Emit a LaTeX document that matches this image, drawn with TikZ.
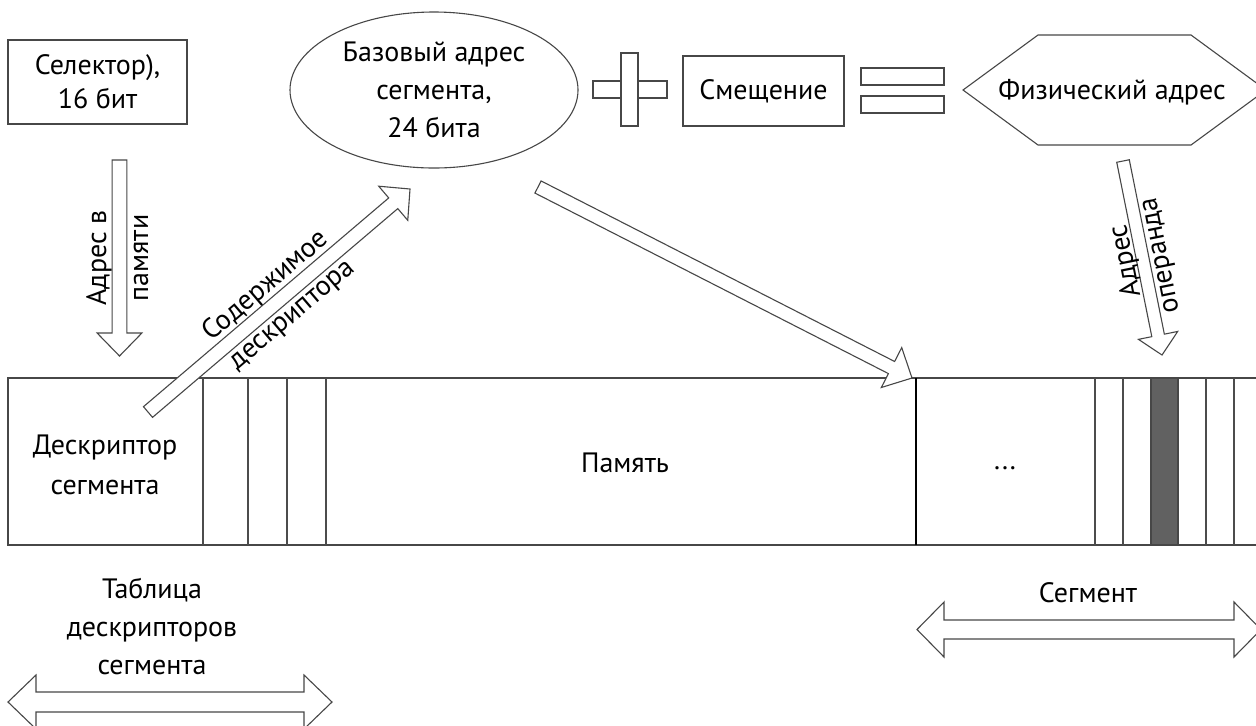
\documentclass[tikz,border=0pt]{standalone}
\usepackage{fontspec}
\setmainfont{PT Sans}
\usetikzlibrary{calc,shapes.geometric}

\tikzset{
  outline/.style={draw=black!72, line width=0.55pt},
  lbl/.style={inner sep=0pt, align=center, font=\fontsize{14}{19}\selectfont},
  blk/.style={outline, fill=white, line join=miter},
  divider/.style={draw=black!70, line width=0.55pt},
}

% block arrow: #1 tail, #2 tip, #3 half shaft width, #4 half head width, #5 head length
\newcommand\blockarrow[5]{%
  \coordinate (bh) at ($(#2)!#5!(#1)$);
  \draw[blk] ($(#1)!#3!90:(#2)$) -- ($(bh)!#3!90:(#2)$) -- ($(bh)!#4!90:(#2)$)
    -- (#2) -- ($(bh)!#4!-90:(#2)$) -- ($(bh)!#3!-90:(#2)$)
    -- ($(#1)!#3!-90:(#2)$) -- cycle;
}
% two-headed block arrow: #1, #2 tips, #3 half shaft, #4 half head, #5 head length
\newcommand\doublearrow[5]{%
  \coordinate (ba) at ($(#1)!#5!(#2)$);
  \coordinate (bb) at ($(#2)!#5!(#1)$);
  \draw[blk] (#1) -- ($(ba)!#4!90:(#2)$) -- ($(ba)!#3!90:(#2)$)
    -- ($(bb)!#3!-90:(#1)$) -- ($(bb)!#4!-90:(#1)$) -- (#2)
    -- ($(bb)!#4!90:(#1)$) -- ($(bb)!#3!90:(#1)$)
    -- ($(ba)!#3!-90:(#2)$) -- ($(ba)!#4!-90:(#2)$) -- cycle;
}

\begin{document}
\begin{tikzpicture}[x=0.5pt,y=-0.5pt]
\useasboundingbox (0,0) rectangle (1256,725);
\clip (0,0) rectangle (1256,725);
\fill[white] (0,0) rectangle (1256,725);

% ---- top row: selector, base address, offset, physical address ----
\node[outline, lbl, font=\fontsize{14}{17}\selectfont,
      minimum width=89.5pt, minimum height=42pt] (sel) at (97.5,82) {Селектор),\\16 бит};

\node[outline, ellipse, inner sep=0pt, minimum width=144pt, minimum height=78pt] (base) at (434,90) {};
\node[lbl] (basetxt) at (base.center) {Базовый адрес\\сегмента,\\24 бита};

% plus sign
\draw[outline, fill=white] (593,81) rectangle (667,98);
\draw[outline, fill=white] (621,53) rectangle (638,126);

\node[outline, lbl, minimum width=80.5pt, minimum height=35pt] (off) at (763.5,91) {Смещение};

% equals sign
\draw[outline] (861,68) rectangle (944,85);
\draw[outline] (861,96) rectangle (944,113);

% physical address hexagon
\coordinate (hx1) at (963,90);
\coordinate (hx2) at (1038,35);
\coordinate (hx3) at (1191,35);
\coordinate (hx4) at (1266,90);
\coordinate (hx5) at (1191,145);
\coordinate (hx6) at (1038,145);
\draw[outline] (hx1) -- (hx2) -- (hx3) -- (hx4) -- (hx5) -- (hx6) -- cycle;
\node[lbl] (phys) at (1112,92) {Физический адрес};

% ---- memory strip ----
\draw[outline] (1262,378) -- (8,378) -- (8,545) -- (1262,545);
\foreach \x in {203,248,287,326,1095,1123,1206,1234}
  \draw[divider] (\x,378) -- (\x,545);
\draw[outline, fill=black!62] (1151,378) rectangle (1178,545);
\draw[black, line width=0.8pt] (916,378) -- (916,545);

\node[lbl, font=\fontsize{14}{20}\selectfont] (desc) at (105,465) {Дескриптор\\сегмента};
\node[lbl] (mem) at (625,463) {Память};
\node[lbl] (dots) at (1005,468) {...};

% ---- block arrows ----
\coordinate (selA) at (119.5,160);
\coordinate (selB) at (119.5,356);
\blockarrow{selA}{selB}{3.7pt}{11.2pt}{11.5pt}
\node[lbl, rotate=90] (lbA1) at (99,258) {Адрес в};
\node[lbl, rotate=90] (lbA2) at (141,258) {памяти};

\coordinate (dscA) at (148,412);
\coordinate (dscB) at (410,189);
\blockarrow{dscA}{dscB}{3.5pt}{11.2pt}{11pt}
\node[lbl, rotate=40.4] (lbB1) at (266,286) {Содержимое};
\node[lbl, rotate=40.4] (lbB2) at (294,317) {дескриптора};

\coordinate (segA) at (538,187);
\coordinate (segB) at (912,378);
\blockarrow{segA}{segB}{3.4pt}{11.2pt}{11.5pt}

\coordinate (opA) at (1123,161);
\coordinate (opB) at (1162,355);
\blockarrow{opA}{opB}{3.2pt}{10pt}{10pt}
\node[lbl, rotate=101.4] (lbC1) at (1126,261) {Адрес};
\node[lbl, rotate=101.4] (lbC2) at (1163,255) {операнда};

% ---- bottom spans ----
\node[lbl] (tbl) at (152,626) {Таблица\\дескрипторов\\сегмента};
\coordinate (tblL) at (8,702);
\coordinate (tblR) at (332,702);
\doublearrow{tblL}{tblR}{5pt}{13.5pt}{14pt}

\node[lbl] (seg) at (1088,593) {Сегмент};
\coordinate (sgL) at (917,629.5);
\coordinate (sgR) at (1261,629.5);
\doublearrow{sgL}{sgR}{4.75pt}{13.75pt}{13.5pt}
\end{tikzpicture}
\end{document}
